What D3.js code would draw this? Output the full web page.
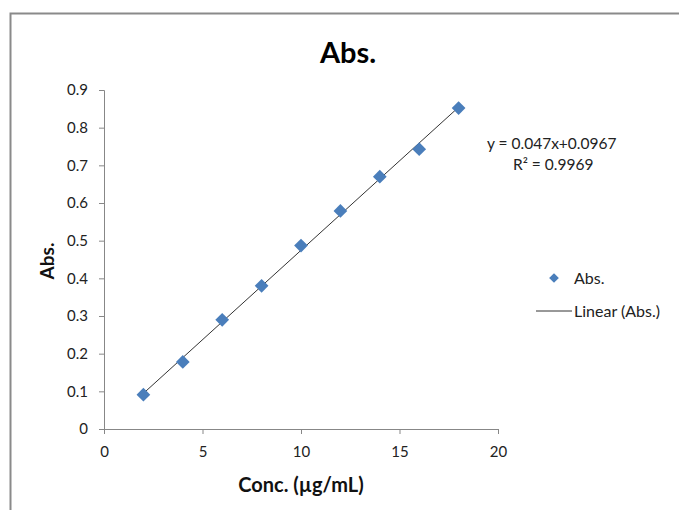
<!DOCTYPE html>
<html>
<head>
<meta charset="utf-8">
<script src="https://cdn.jsdelivr.net/npm/d3@7"></script>
<style>
  body { margin: 0; background: #fff; }
  text { font-family: Lato, "Open Sans", sans-serif; fill: #222; }
</style>
</head>
<body>
<div id="mydiv"></div>
<script>
// data
const concs = [2, 4, 6, 8, 10, 12, 14, 16, 18];
const absVals = [0.091, 0.178, 0.290, 0.380, 0.487, 0.579, 0.670, 0.743, 0.852];
const xTicks = [0, 5, 10, 15, 20];
const yTicks = [0, 0.1, 0.2, 0.3, 0.4, 0.5, 0.6, 0.7, 0.8, 0.9];
const eqLines = ["y = 0.047x+0.0967", "R² = 0.9969"];

const svg = d3.select("#mydiv")
  .append("svg")
  .attr("width", 679)
  .attr("height", 510)

// chart border (runs off the right/bottom of the picture)
svg.append("rect")
  .attr("x", 10.5).attr("y", 13.5)
  .attr("width", 700).attr("height", 520)
  .style("fill", "none")
  .style("stroke", "#8a8a8a")
  .style("stroke-width", 2)

const x = d3.scaleLinear().domain([0, 20]).range([104, 498]);
const y = d3.scaleLinear().domain([0, 0.9]).range([429, 90]);

// axes
const gx = svg.append("g")
  .attr("transform", `translate(0,${y(0)})`)
  .call(d3.axisBottom(x).tickValues(xTicks).tickSize(5).tickPadding(12).tickFormat(d3.format("d")));
const gy = svg.append("g")
  .attr("transform", `translate(${x(0)},0)`)
  .call(d3.axisLeft(y).tickValues(yTicks).tickSize(5).tickPadding(11).tickFormat(d => d === 0 ? "0" : d3.format(".1f")(d)));

[gx, gy].forEach(g => {
  g.selectAll("path, line").style("stroke", "#878787");
  g.selectAll("text").style("font-size", "15px").style("fill", "#222")
    .style("font-family", "Lato, 'Open Sans', sans-serif");
});

// linear trendline (least squares of the points)
const mx = d3.mean(concs), my = d3.mean(absVals);
const slope = d3.sum(concs, (c, i) => (c - mx) * (absVals[i] - my)) / d3.sum(concs, c => (c - mx) ** 2);
const icpt = my - slope * mx;
const xr = d3.extent(concs);
svg.append("line")
  .attr("x1", x(xr[0])).attr("y1", y(slope * xr[0] + icpt))
  .attr("x2", x(xr[1])).attr("y2", y(slope * xr[1] + icpt))
  .style("stroke", "#333")
  .style("stroke-width", 1)

// markers
const diamond = d3.symbol().type(d3.symbolDiamond2).size(120);
svg.selectAll(".pt")
  .data(concs).enter()
  .append("path")
  .attr("class", "pt")
  .attr("d", diamond)
  .attr("transform", (d, i) => `translate(${x(d)},${y(absVals[i])})`)
  .style("fill", "#4a7ebb")

// title
svg.append("text")
  .attr("x", 348).attr("y", 63)
  .attr("text-anchor", "middle")
  .style("font-size", "29px").style("font-weight", "bold").style("fill", "#000")
  .text("Abs.");

// axis titles
svg.append("text")
  .attr("x", 301).attr("y", 492)
  .attr("text-anchor", "middle")
  .style("font-size", "20px").style("font-weight", "bold").style("fill", "#111")
  .text("Conc. (µg/mL)");
svg.append("text")
  .attr("transform", "translate(54,261) rotate(-90)")
  .attr("text-anchor", "middle")
  .style("font-size", "19px").style("font-weight", "bold").style("fill", "#111")
  .text("Abs.");

// equation
svg.selectAll(".eq")
  .data(eqLines).enter()
  .append("text")
  .attr("class", "eq")
  .attr("x", (d, i) => i === 0 ? 487 : 513)
  .attr("y", (d, i) => 149 + i * 21)
  .style("font-size", "15.5px")
  .text(d => d);

// legend
svg.append("path")
  .attr("d", d3.symbol().type(d3.symbolDiamond2).size(60))
  .attr("transform", "translate(554,278)")
  .style("fill", "#4a7ebb")
svg.append("text").attr("x", 574).attr("y", 284).style("font-size", "16px").text("Abs.");
svg.append("line")
  .attr("x1", 536).attr("x2", 572).attr("y1", 311).attr("y2", 311)
  .style("stroke", "#333").style("stroke-width", 1)
svg.append("text").attr("x", 574).attr("y", 317).style("font-size", "16px").text("Linear (Abs.)");
</script>
</body>
</html>
